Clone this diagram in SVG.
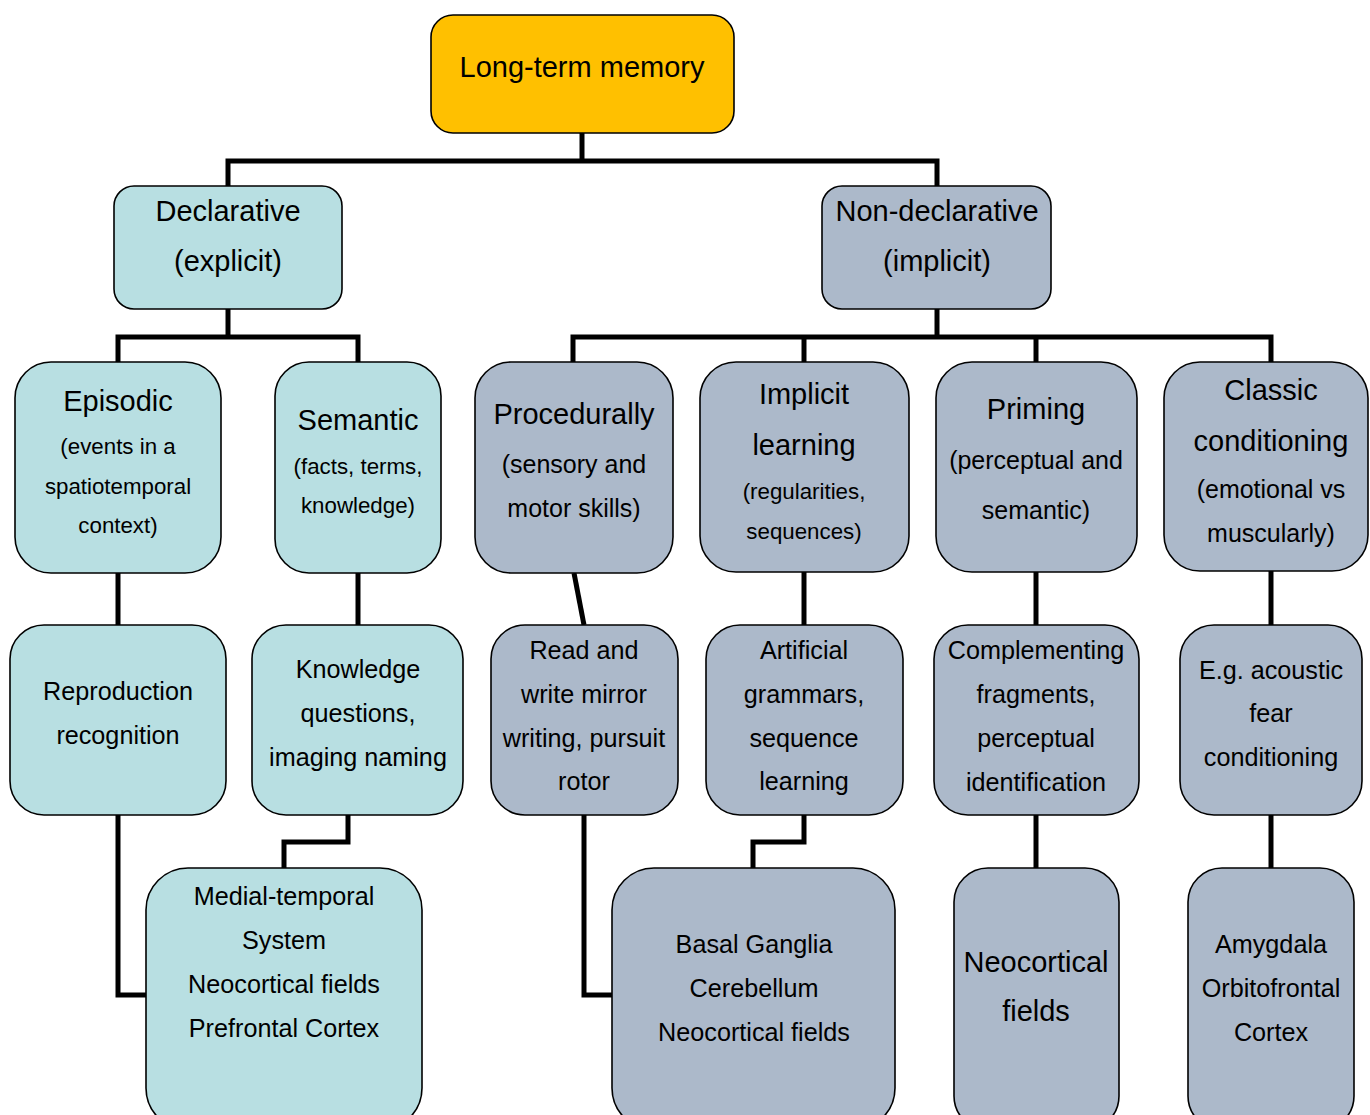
<svg xmlns="http://www.w3.org/2000/svg" width="1370" height="1115" viewBox="0 0 1370 1115">
<style>
.b{stroke:#000;stroke-width:1.6}
.gold{fill:#FFC000}
.teal{fill:#B8DFE2}
.gray{fill:#ACB9CA}
text{font-family:"Liberation Sans",Arial,sans-serif;fill:#000;text-anchor:middle}
.t{font-size:29px}
.s{font-size:22.3px}
.m{font-size:25px}
.l3{font-size:25.2px}
.l4{font-size:25.2px}
.c{fill:none;stroke:#000;stroke-width:5}
</style>
<rect width="1370" height="1115" fill="#fff"/>
<g id="connectors">
<polyline class="c" points="582,133 582,161"/>
<polyline class="c" points="228,186 228,161 937,161 937,186"/>
<polyline class="c" points="228,309 228,337"/>
<polyline class="c" points="118,362 118,337 358,337 358,362"/>
<polyline class="c" points="937,309 937,337"/>
<polyline class="c" points="573,362 573,337 1271,337 1271,362"/>
<polyline class="c" points="804,337 804,362"/>
<polyline class="c" points="1036,337 1036,362"/>
<polyline class="c" points="118,573 118,625"/>
<polyline class="c" points="358,573 358,625"/>
<polyline class="c" points="574,573 584,625"/>
<polyline class="c" points="804,572 804,625"/>
<polyline class="c" points="1036,572 1036,625"/>
<polyline class="c" points="1271,571 1271,625"/>
<polyline class="c" points="118,815 118,995 146,995"/>
<polyline class="c" points="348,815 348,842 284,842 284,868"/>
<polyline class="c" points="584,815 584,995 612,995"/>
<polyline class="c" points="804,815 804,842 753,842 753,868"/>
<polyline class="c" points="1036,815 1036,868"/>
<polyline class="c" points="1271,815 1271,868"/>
</g>
<g id="ltm"><rect class="b gold" x="431" y="15" width="303" height="118" rx="22"/><text class="t" x="582" y="77">Long-term memory</text></g>
<g id="declarative"><rect class="b teal" x="114" y="186" width="228" height="123" rx="20"/><text class="t" x="228" y="221">Declarative</text><text class="t" x="228" y="271">(explicit)</text></g>
<g id="nondeclarative"><rect class="b gray" x="822" y="186" width="229" height="123" rx="20"/><text class="t" x="937" y="221">Non-declarative</text><text class="t" x="937" y="271">(implicit)</text></g>
<g id="episodic"><rect class="b teal" x="15" y="362" width="206" height="211" rx="36"/><text class="t" x="118" y="411">Episodic</text><text class="s" x="118" y="454">(events in a</text><text class="s" x="118" y="494">spatiotemporal</text><text class="s" x="118" y="533">context)</text></g>
<g id="semantic"><rect class="b teal" x="275" y="362" width="166" height="211" rx="34"/><text class="t" x="358" y="430">Semantic</text><text class="s" x="358" y="474">(facts, terms,</text><text class="s" x="358" y="513">knowledge)</text></g>
<g id="procedurally"><rect class="b gray" x="475" y="362" width="198" height="211" rx="36"/><text class="t" x="574" y="424">Procedurally</text><text class="m" x="574" y="473">(sensory and</text><text class="m" x="574" y="517">motor skills)</text></g>
<g id="implicit"><rect class="b gray" x="700" y="362" width="209" height="210" rx="36"/><text class="t" x="804" y="404">Implicit</text><text class="t" x="804" y="455">learning</text><text class="s" x="804" y="499">(regularities,</text><text class="s" x="804" y="539">sequences)</text></g>
<g id="priming"><rect class="b gray" x="936" y="362" width="201" height="210" rx="36"/><text class="t" x="1036" y="419">Priming</text><text class="m" x="1036" y="469">(perceptual and</text><text class="m" x="1036" y="519">semantic)</text></g>
<g id="classic"><rect class="b gray" x="1164" y="362" width="204" height="209" rx="36"/><text class="t" x="1271" y="400">Classic</text><text class="t" x="1271" y="451">conditioning</text><text class="m" x="1271" y="498">(emotional vs</text><text class="m" x="1271" y="542">muscularly)</text></g>
<g id="reproduction"><rect class="b teal" x="10" y="625" width="216" height="190" rx="34"/><text class="l3" x="118" y="700">Reproduction</text><text class="l3" x="118" y="744">recognition</text></g>
<g id="knowledge"><rect class="b teal" x="252" y="625" width="211" height="190" rx="34"/><text class="l3" x="358" y="678">Knowledge</text><text class="l3" x="358" y="722">questions,</text><text class="l3" x="358" y="766">imaging naming</text></g>
<g id="readwrite"><rect class="b gray" x="491" y="625" width="187" height="190" rx="34"/><text class="l3" x="584" y="659">Read and</text><text class="l3" x="584" y="703">write mirror</text><text class="l3" x="584" y="747">writing, pursuit</text><text class="l3" x="584" y="790">rotor</text></g>
<g id="artificial"><rect class="b gray" x="706" y="625" width="197" height="190" rx="34"/><text class="l3" x="804" y="659">Artificial</text><text class="l3" x="804" y="703">grammars,</text><text class="l3" x="804" y="747">sequence</text><text class="l3" x="804" y="790">learning</text></g>
<g id="complementing"><rect class="b gray" x="934" y="625" width="205" height="190" rx="34"/><text class="l3" x="1036" y="659">Complementing</text><text class="l3" x="1036" y="703">fragments,</text><text class="l3" x="1036" y="747">perceptual</text><text class="l3" x="1036" y="791">identification</text></g>
<g id="acoustic"><rect class="b gray" x="1180" y="625" width="182" height="190" rx="34"/><text class="l3" x="1271" y="679">E.g. acoustic</text><text class="l3" x="1271" y="722">fear</text><text class="l3" x="1271" y="766">conditioning</text></g>
<g id="medial"><rect class="b teal" x="146" y="868" width="276" height="262" rx="42"/><text class="l4" x="284" y="905">Medial-temporal</text><text class="l4" x="284" y="949">System</text><text class="l4" x="284" y="993">Neocortical fields</text><text class="l4" x="284" y="1037">Prefrontal Cortex</text></g>
<g id="basal"><rect class="b gray" x="612" y="868" width="283" height="262" rx="42"/><text class="l4" x="754" y="953">Basal Ganglia</text><text class="l4" x="754" y="997">Cerebellum</text><text class="l4" x="754" y="1041">Neocortical fields</text></g>
<g id="neocortical"><rect class="b gray" x="954" y="868" width="165" height="262" rx="34"/><text class="t" x="1036" y="972">Neocortical</text><text class="t" x="1036" y="1021">fields</text></g>
<g id="amygdala"><rect class="b gray" x="1188" y="868" width="166" height="262" rx="34"/><text class="l4" x="1271" y="953">Amygdala</text><text class="l4" x="1271" y="997">Orbitofrontal</text><text class="l4" x="1271" y="1041">Cortex</text></g>
</svg>
